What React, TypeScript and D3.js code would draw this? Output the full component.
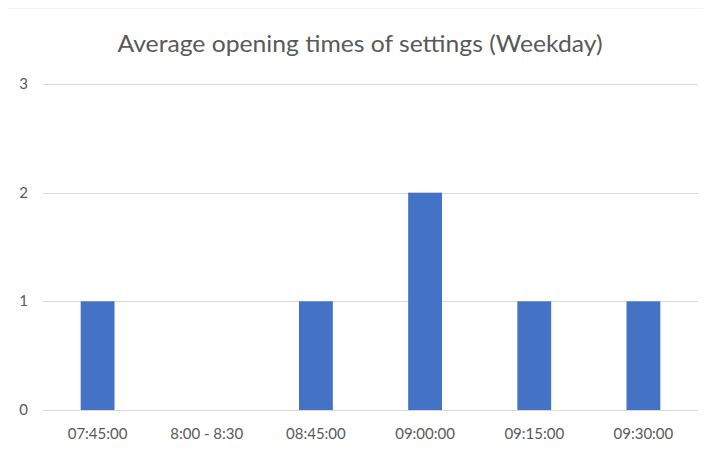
import React, { useEffect, useRef } from "react";
import * as d3 from "d3";

const categories = ["07:45:00", "8:00 - 8:30", "08:45:00", "09:00:00", "09:15:00", "09:30:00"];
const counts = [1, 0, 1, 2, 1, 1];
const yTicks = [0, 1, 2, 3];
const title = "Average opening times of settings (Weekday)";

function Chart() {
    const svgRef = useRef<SVGSVGElement>(null);

    useEffect(() => {
        const width = 711;
        const height = 455;
        const marginTop = 84;
        const marginRight = 13;
        const marginBottom = 45;
        const marginLeft = 43;
        const font = "Lato, 'Open Sans', sans-serif";
        const textColor = "#595959";

        const svg = d3.select(svgRef.current)
            .attr("width", width)
            .attr("height", height);

        svg.selectAll("*").remove();

        const x = d3.scaleBand()
            .domain(categories)
            .range([marginLeft, width - marginRight])
            .paddingInner(0.69)
            .paddingOuter(0.345);

        const y = d3.scaleLinear()
            .domain([0, 3])
            .range([height - marginBottom, marginTop]);

        // chart frame (left + top edges)
        svg.append("path")
            .attr("d", `M6.5,${height} V7.5 H${width}`)
            .attr("fill", "none")
            .attr("stroke", "#d0d0d0")
            .attr("stroke-width", 1.5);

        // title
        svg.append("text")
            .attr("x", 360)
            .attr("y", 52)
            .attr("text-anchor", "middle")
            .attr("font-family", font)
            .attr("font-size", 23)
            .attr("textLength", 485)
            .attr("lengthAdjust", "spacingAndGlyphs")
            .attr("fill", textColor)
            .text(title);

        // gridlines
        svg.append("g")
            .selectAll("line")
            .data(yTicks)
            .join("line")
            .attr("x1", marginLeft)
            .attr("x2", width - marginRight)
            .attr("y1", d => Math.round(y(d)) + 0.5)
            .attr("y2", d => Math.round(y(d)) + 0.5)
            .attr("stroke", "#d9d9d9")
            .attr("stroke-width", 1.2);

        // y labels
        svg.append("g")
            .selectAll("text")
            .data(yTicks)
            .join("text")
            .attr("x", 28)
            .attr("y", d => y(d) + 5)
            .attr("text-anchor", "end")
            .attr("font-family", font)
            .attr("font-size", 15)
            .attr("fill", textColor)
            .text(d => d);

        // bars
        svg.append("g")
            .selectAll("rect")
            .data(categories)
            .join("rect")
            .attr("x", d => x(d)!)
            .attr("width", x.bandwidth())
            .attr("y", (d, i) => y(counts[i]))
            .attr("height", (d, i) => y(0) - y(counts[i]))
            .attr("fill", "#4472c4");

        // x labels
        svg.append("g")
            .selectAll("text")
            .data(categories)
            .join("text")
            .attr("x", d => x(d)! + x.bandwidth() / 2)
            .attr("y", 439)
            .attr("text-anchor", "middle")
            .attr("font-family", font)
            .attr("font-size", 15)
            .attr("fill", textColor)
            .text(d => d);
    }, []);

    return <svg ref={svgRef} style={{ display: "block" }}></svg>;
}

export default function App() {
    return (
        <div style={{ margin: -8, background: "#fff" }}>
            <Chart />
        </div>
    );
}
